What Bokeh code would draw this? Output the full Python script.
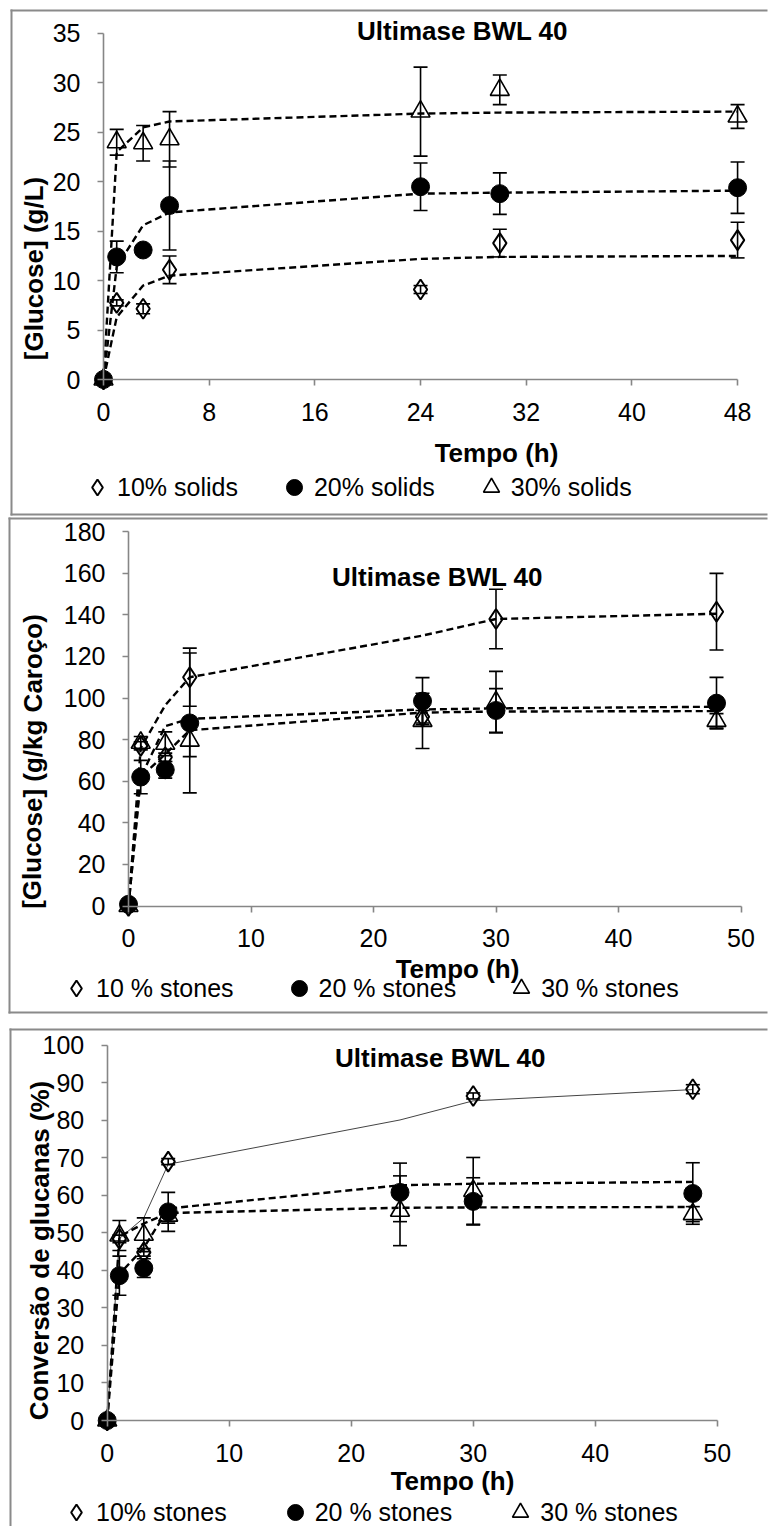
from bokeh.plotting import figure
from bokeh.models import (Whisker, TeeHead, ColumnDataSource, Label, Legend,
                          LegendItem, Range1d, FixedTicker, BoxAnnotation)
from bokeh.layouts import column
from bokeh.embed import file_html
from bokeh.resources import INLINE

FONT = "Liberation Sans"
AXIS_COLOR = "#868686"
BORDER_COLOR = "#8a8a8a"

# ------------------------------------------------------------------ data
time_h = [0, 1, 3, 5, 24, 30, 48]
title_text = "Ultimase BWL 40"
xlabel_text = "Tempo (h)"

# Panel 1 : [Glucose] (g/L)
p1_ylabel = "[Glucose] (g/L)"
p1_legend = ["10% solids", "20% solids", "30% solids"]
p1_10_y = [0, 7.75, 7.15, 11.1, 9.1, 13.8, 14.1]
p1_10_err = [0, 0.3, 0.5, 1.4, 0.4, 1.4, 1.8]
p1_20_y = [0, 12.4, 13.1, 17.6, 19.5, 18.8, 19.4]
p1_20_err = [0, 1.6, 0.5, 4.5, 2.4, 2.1, 2.6]
p1_30_y = [0, 24.0, 23.9, 24.3, 27.1, 29.3, 26.6]
p1_30_err = [0, 1.3, 1.8, 2.8, 4.5, 1.5, 1.2]
p1_10_fit = [0, 6.3, 9.5, 10.5, 12.2, 12.4, 12.5]
p1_20_fit = [0, 11.4, 15.6, 16.9, 18.8, 18.9, 19.1]
p1_30_fit = [0, 23.0, 25.5, 26.1, 26.9, 27.0, 27.1]
p1_xticks = [0, 8, 16, 24, 32, 40, 48]
p1_yticks = [0, 5, 10, 15, 20, 25, 30, 35]

# Panel 2 : [Glucose] (g/kg Caroço)
p2_ylabel = "[Glucose] (g/kg Caroço)"
p2_legend = ["10 % stones", "20 % stones", "30 % stones"]
p2_10_y = [0, 77.0, 71.5, 110.0, 91.0, 138.0, 141.5]
p2_10_err = [0, 2.0, 2.0, 14.0, 3.0, 14.3, 18.4]
p2_20_y = [0.8, 62.0, 65.5, 88.0, 98.5, 94.0, 97.5]
p2_20_err = [0, 8.0, 4.0, 33.6, 11.3, 10.5, 12.4]
p2_30_y = [0, 78.5, 78.0, 79.5, 89.0, 98.0, 89.0]
p2_30_err = [0, 3.0, 5.7, 7.7, 13.3, 14.8, 3.5]
p2_10_fit = [0, 76.0, 96.5, 110.0, 130.0, 138.0, 140.5]
p2_20_fit = [0, 62.0, 86.5, 90.0, 94.5, 95.0, 95.8]
p2_30_fit = [0, 62.0, 73.0, 84.5, 93.0, 93.5, 93.7]
p2_xticks = [0, 10, 20, 30, 40, 50]
p2_yticks = [0, 20, 40, 60, 80, 100, 120, 140, 160, 180]

# Panel 3 : Conversão de glucanas (%)
p3_ylabel = "Conversão de glucanas (%)"
p3_legend = ["10% stones", "20 % stones", "30 % stones"]
p3_10_time = [0, 1, 3, 5, 30, 48]
p3_10_y = [0, 48.4, 44.8, 69.0, 86.5, 88.3]
p3_10_err = [0, 1.0, 1.0, 0.8, 0.8, 1.2]
p3_20_y = [0, 38.6, 40.6, 55.6, 60.8, 58.4, 60.5]
p3_20_err = [0, 5.2, 2.5, 5.2, 7.8, 6.3, 8.2]
p3_30_y = [0, 49.3, 49.5, 54.6, 55.9, 61.2, 55.0]
p3_30_err = [0, 4.0, 4.5, 2.0, 9.3, 8.9, 2.0]
p3_10_fit = [0, 48.5, 54.0, 68.3, 80.1, 85.2, 88.2]
p3_20_fit = [0, 39.0, 46.0, 56.5, 62.7, 63.1, 63.6]
p3_30_fit = [0, 49.0, 52.5, 55.3, 56.7, 56.8, 56.9]
p3_xticks = [0, 10, 20, 30, 40, 50]
p3_yticks = [0, 10, 20, 30, 40, 50, 60, 70, 80, 90, 100]

MARKERS = [
    dict(marker="diamond", size=20, fill_color=None, line_color="black", line_width=2),
    dict(marker="circle", size=18, fill_color="black", line_color="black", line_width=1),
    dict(marker="triangle", size=19, fill_color=None, line_color="black", line_width=1.6),
]

CANVAS_W = 768


def make_panel(cfg):
    # page-pixel geometry of this panel -> data ranges (frame covers whole canvas)
    top, h = cfg["canvas_top"], cfg["height"]
    ox, sx = cfg["x0_px"], cfg["x_ppu"]
    oy, sy = cfg["y0_px"], cfg["y_ppu"]

    def dx(px):
        return (px - ox) / sx

    def dy(py):
        return (oy - py) / sy

    p = figure(width=CANVAS_W, height=h,
               x_range=Range1d(dx(0), dx(CANVAS_W)),
               y_range=Range1d(dy(top + h), dy(top)),
               output_backend="svg", toolbar_location=None,
               min_border=0, min_border_left=0, min_border_right=0,
               min_border_top=0, min_border_bottom=0)
    p.grid.visible = False
    p.outline_line_color = None
    p.background_fill_color = "white"
    p.border_fill_color = "white"

    # panel frame lines (left, top, bottom) as thin filled strips
    bl, bt, bb = cfg["box"]
    right_end = CANVAS_W - 1
    left_bottom = bb + 1 if bb is not None else top + h
    strips = [(bl - 1, bl + 1, bt - 1, left_bottom),
              (bl - 1, right_end, bt - 1, bt + 1)]
    if bb is not None:
        strips.append((bl - 1, right_end, bb - 1, bb + 1))
    for (l, r, t, bo) in strips:
        p.add_layout(BoxAnnotation(left=dx(l), right=dx(r), top=dy(t), bottom=dy(bo),
                                   fill_color=BORDER_COLOR, fill_alpha=1,
                                   line_alpha=0, level="underlay"))

    for ax, ticks in ((p.xaxis, cfg["xticks"]), (p.yaxis, cfg["yticks"])):
        ax.ticker = FixedTicker(ticks=ticks)
        ax.bounds = (ticks[0], ticks[-1])
        ax.fixed_location = 0
        ax.axis_line_color = AXIS_COLOR
        ax.axis_line_width = 1.6
        ax.major_tick_line_color = AXIS_COLOR
        ax.major_tick_line_width = 1.6
        ax.major_tick_out = 6
        ax.major_tick_in = 0
        ax.minor_tick_line_color = None
        ax.major_label_text_font = FONT
        ax.major_label_text_font_size = "25px"
        ax.major_label_text_color = "black"
    p.yaxis.major_label_standoff = 17
    p.xaxis.major_label_standoff = 17

    scat_renderers = []
    for s in cfg["series"]:
        p.line(s["fit_x"], s["fit_y"], line_color=s.get("fit_color", "black"),
               line_width=s.get("fit_width", 2.4), line_dash=s.get("fit_dash", "7 4"))
    for i, s in enumerate(cfg["series"]):
        r = p.scatter(s["x"], s["y"], **MARKERS[i])
        scat_renderers.append(r)
        xs = [x for x, e in zip(s["x"], s["err"]) if e > 0]
        ups = [y + e for y, e in zip(s["y"], s["err"]) if e > 0]
        los = [y - e for y, e in zip(s["y"], s["err"]) if e > 0]
        src = ColumnDataSource(dict(base=xs, upper=ups, lower=los))
        w = Whisker(base="base", upper="upper", lower="lower", source=src,
                    dimension="height", line_color="black", line_width=1.6,
                    upper_head=TeeHead(size=14, line_color="black", line_width=1.6),
                    lower_head=TeeHead(size=14, line_color="black", line_width=1.6),
                    level="overlay")
        p.add_layout(w)

    tx, ty = cfg["title_px"]
    p.add_layout(Label(x=dx(tx), y=dy(ty), text=title_text, text_align="center",
                       text_baseline="middle", text_font=FONT, text_color="black",
                       text_font_style="bold", text_font_size="26px"))
    lx, ly = cfg["xlabel_px"]
    p.add_layout(Label(x=dx(lx), y=dy(ly), text=xlabel_text, text_align="center",
                       text_baseline="middle", text_font=FONT, text_color="black",
                       text_font_style="bold", text_font_size="26px"))
    yx, yy = cfg["ylabel_px"]
    p.add_layout(Label(x=dx(yx), y=dy(yy), text=cfg["ylabel"], angle=1.5707963,
                       text_align="center", text_baseline="middle",
                       text_font=FONT, text_font_style="bold", text_color="black",
                       text_font_size="26px"))

    items = [LegendItem(label=lab, renderers=[r])
             for lab, r in zip(cfg["legend"], scat_renderers)]
    lg_left, lg_bottom = cfg["legend_px"]
    leg = Legend(items=items, location=(lg_left, top + h - lg_bottom),
                 orientation="horizontal",
                 glyph_width=40, glyph_height=40, label_height=40,
                 label_standoff=0, spacing=cfg["legend_spacing"],
                 padding=0, margin=0, border_line_color=None,
                 background_fill_alpha=0, label_text_font=FONT,
                 label_text_font_size="25px", label_text_color="black")
    p.add_layout(leg, "center")
    return p


cfg1 = dict(
    canvas_top=0, height=516,
    x0_px=103, x_ppu=13.21, y0_px=379, y_ppu=9.886,
    box=(11, 10, 514),
    xticks=p1_xticks, yticks=p1_yticks,
    series=[
        dict(x=time_h, y=p1_10_y, err=p1_10_err, fit_x=time_h, fit_y=p1_10_fit),
        dict(x=time_h, y=p1_20_y, err=p1_20_err, fit_x=time_h, fit_y=p1_20_fit),
        dict(x=time_h, y=p1_30_y, err=p1_30_err, fit_x=time_h, fit_y=p1_30_fit),
    ],
    title_px=(462, 30), xlabel_px=(496, 452), ylabel_px=(33, 268),
    ylabel=p1_ylabel, legend=p1_legend, legend_px=(77, 507), legend_spacing=36,
)

cfg2 = dict(
    canvas_top=516, height=498,
    x0_px=128, x_ppu=12.25, y0_px=905.5, y_ppu=2.08,
    box=(9, 518, 1012),
    xticks=p2_xticks, yticks=p2_yticks,
    series=[
        dict(x=time_h, y=p2_10_y, err=p2_10_err, fit_x=time_h, fit_y=p2_10_fit),
        dict(x=time_h, y=p2_20_y, err=p2_20_err, fit_x=time_h, fit_y=p2_20_fit),
        dict(x=time_h, y=p2_30_y, err=p2_30_err, fit_x=time_h, fit_y=p2_30_fit),
    ],
    title_px=(437, 576), xlabel_px=(457, 968), ylabel_px=(32, 761),
    ylabel=p2_ylabel, legend=p2_legend, legend_px=(56, 1008), legend_spacing=45,
)

cfg3 = dict(
    canvas_top=1014, height=512,
    x0_px=106.7, x_ppu=12.2, y0_px=1420, y_ppu=3.752,
    box=(10, 1029, None),
    xticks=p3_xticks, yticks=p3_yticks,
    series=[
        dict(x=p3_10_time, y=p3_10_y, err=p3_10_err, fit_x=time_h, fit_y=p3_10_fit,
             fit_color="#444444", fit_width=1, fit_dash="solid"),
        dict(x=time_h, y=p3_20_y, err=p3_20_err, fit_x=time_h, fit_y=p3_20_fit),
        dict(x=time_h, y=p3_30_y, err=p3_30_err, fit_x=time_h, fit_y=p3_30_fit),
    ],
    title_px=(440, 1057), xlabel_px=(452, 1480), ylabel_px=(39, 1250),
    ylabel=p3_ylabel, legend=p3_legend, legend_px=(56, 1532), legend_spacing=48,
)

p1 = make_panel(cfg1)
p2 = make_panel(cfg2)
p3 = make_panel(cfg3)

layout = column(p1, p2, p3, spacing=0)
open("out.html", "w").write(file_html(layout, INLINE))
